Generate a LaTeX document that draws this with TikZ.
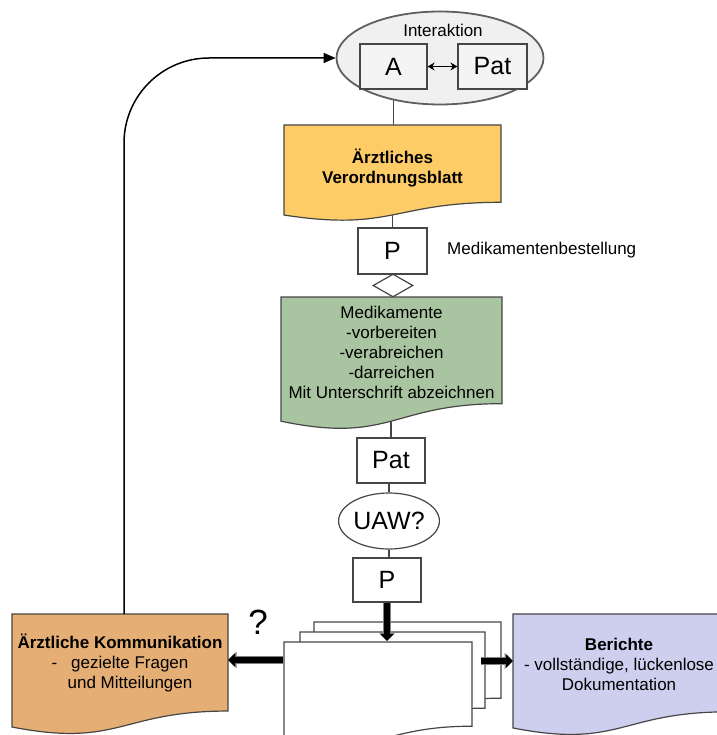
\documentclass[tikz,border=0pt]{standalone}
\usepackage{fontspec}
\setmainfont{Liberation Sans}
\usetikzlibrary{shapes.geometric,arrows.meta,calc,backgrounds}
\definecolor{docyellow}{RGB}{254,204,102}
\definecolor{docgreen}{RGB}{169,196,160}
\definecolor{docorange}{RGB}{229,174,116}
\definecolor{docblue}{RGB}{206,206,238}
\definecolor{ellfill}{RGB}{240,240,240}
\definecolor{boxgray}{RGB}{244,244,244}
\definecolor{linegray}{RGB}{70,70,70}
\definecolor{ellgray}{RGB}{95,95,95}
\newcommand\mydoc[5]{%
  \path[draw=linegray, fill=#5, line width=1.2pt]
    (#1,#2) -- ({#1+#3},#2) -- ({#1+#3},{#2+0.802*#4})
    .. controls ({#1+0.5*#3},{#2+0.802*#4}) and ({#1+0.5*#3},{#2+1.107*#4}) ..
    (#1,{#2+0.934*#4}) -- cycle;}
\begin{document}
\begin{tikzpicture}[x=1pt,y=-1pt,
  font=\fontsize{17}{20}\selectfont,
  conn/.style={draw=linegray, line width=1.3pt},
  box/.style={draw=linegray, line width=1.2pt, fill=white, inner sep=0pt,
    font=\fontsize{25}{30}\selectfont},
  doctext/.style={align=center, inner sep=0pt},
  bigarrow/.style={line width=5.5pt, black, -{Triangle[length=7pt,width=13pt]},
    preaction={draw=gray, line width=8pt, -{Triangle[length=8.5pt,width=16pt]}}}
]
\useasboundingbox (0,0) rectangle (716,735);

% top interaction ellipse
\node[ellipse, draw=ellgray, fill=ellfill, line width=1.8pt, inner sep=0pt,
  minimum width=207pt, minimum height=93pt] (ell) at (440,58) {};
\node (inter) at (443,30) {Interaktion};
\node[box, fill=boxgray, minimum width=67pt, minimum height=45pt] (A) at (393.5,66.5) {A};
\node[box, fill=boxgray, minimum width=69pt, minimum height=45pt] (PatA) at (492.5,66.5) {Pat};
\draw[black, line width=1.3pt, {Stealth[length=7pt,width=8pt]}-{Stealth[length=7pt,width=8pt]}] (A) -- (PatA);

% yellow document
\mydoc{284}{125}{217}{96.4}{docyellow}
\node[doctext, font=\fontsize{17}{20}\selectfont\bfseries] (yel) at (392.5,168) {Ärztliches\\Verordnungsblatt};

% P box + diamond
\node[box, minimum width=69pt, minimum height=46pt] (P1) at (392.5,251) {P};
\node[diamond, draw=linegray, line width=1.2pt, fill=white, inner sep=0pt,
  minimum width=40pt, minimum height=23pt] (dia) at (393,285.5) {};
\node[anchor=west, inner sep=0pt] (bestell) at (447,250) {Medikamentenbestellung};

% green document
\mydoc{281}{297}{221}{133}{docgreen}
\node[doctext] (grn) at (391.5,352) {Medikamente\\-vorbereiten\\-verabreichen\\-darreichen\\Mit Unterschrift abzeichnen};

% Pat, UAW, P
\node[box, minimum width=68pt, minimum height=45pt] (Pat2) at (391,460.5) {Pat};
\node[ellipse, draw=linegray, line width=1.2pt, fill=white, inner sep=0pt,
  minimum width=96pt, minimum height=56pt, font=\fontsize{25}{30}\selectfont] (uaw) at (389,521) {UAW?};
\node[box, minimum width=68pt, minimum height=44pt] (P3) at (387,580) {P};

% stack of documents
\mydoc{314}{622}{187}{95}{white}
\mydoc{300}{632}{185}{95}{white}
\mydoc{284}{642}{188}{105}{white}
\coordinate (stackTop) at (387,641);
\coordinate (stackL) at (283,660);
\coordinate (stackR) at (481,661);

% orange document
\mydoc{12}{614}{216}{121}{docorange}
\node[doctext] (kom) at (120,663) {\textbf{Ärztliche Kommunikation}\\-\hspace{14pt}gezielte Fragen\\\hspace{20pt}und Mitteilungen};
\coordinate (komR) at (228,660);
\coordinate (komTop) at (124,614);

% blue document
\mydoc{513}{614}{215}{122}{docblue}
\node[doctext] (ber) at (619,664) {\textbf{Berichte}\\- vollständige, lückenlose\\Dokumentation};
\coordinate (berL) at (513,661);

% question mark
\node[font=\fontsize{35}{40}\selectfont, inner sep=0pt] (q) at (258,622) {?};

% thick arrows
\draw[bigarrow] (P3.south) -- (stackTop);
\draw[bigarrow] (stackL) -- (komR);
\draw[bigarrow] (stackR) -- (berL);

% feedback connector
\draw[black, line width=1.5pt, rounded corners=85pt, -{Triangle[length=12pt,width=10pt]}] (komTop) |- (ell.west);

% thin connectors behind
\begin{scope}[on background layer]
\draw[conn] (A.south) -- (A.south |- yel.center);
\draw[conn] (yel.center) -- (P1.north);
\draw[conn] (Pat2.north |- grn.center) -- (Pat2.north);
\draw[conn] (uaw.north |- Pat2.south) -- (uaw.north);
\draw[conn] (uaw.south) -- (uaw.south |- P3.north);
\end{scope}
\end{tikzpicture}
\end{document}
